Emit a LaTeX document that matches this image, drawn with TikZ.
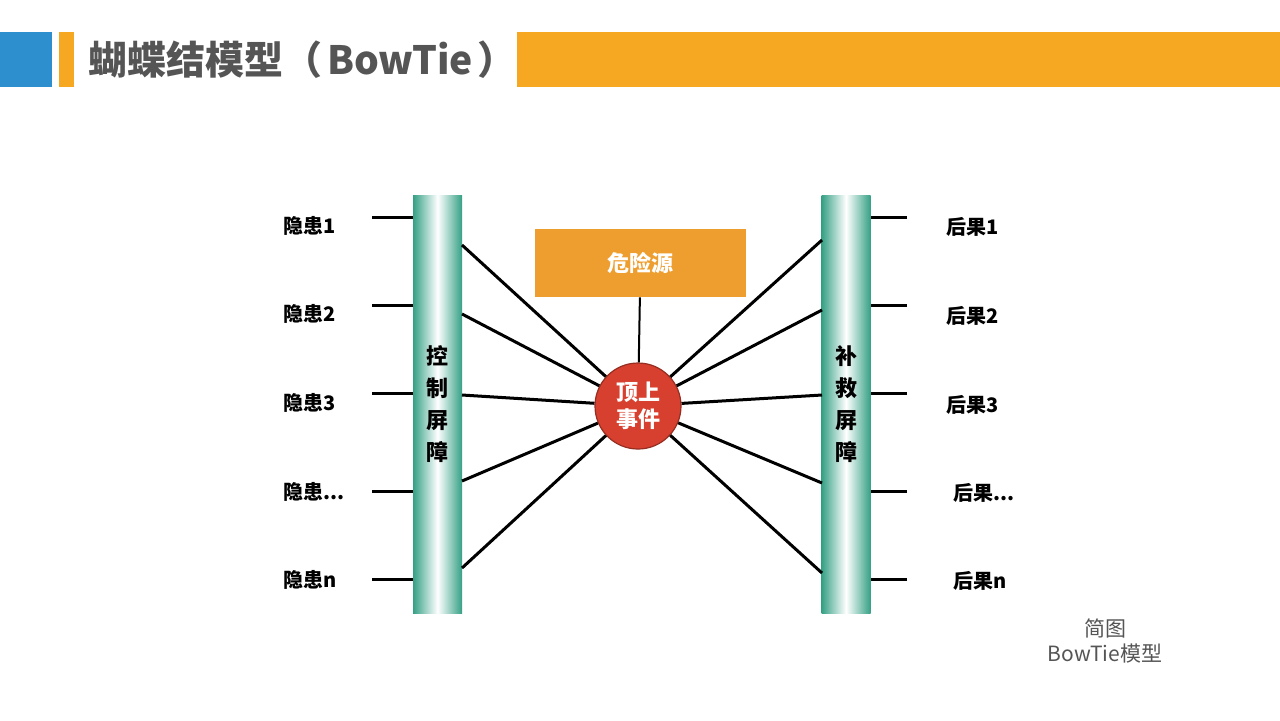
\documentclass[tikz,border=0pt]{standalone}
\usepackage{fontspec}
\setmainfont{Noto Sans CJK SC}
\definecolor{hdblue}{HTML}{2E8FCF}
\definecolor{hdorange}{HTML}{F6A823}
\definecolor{titlegray}{HTML}{555555}
\definecolor{barteal}{HTML}{35A085}
\definecolor{srcorange}{HTML}{EE9E2F}
\definecolor{evred}{HTML}{D7402F}
\begin{document}
\begin{tikzpicture}[x=0.5pt,y=-0.5pt,
        barrier/.style={rectangle, minimum width=24.5pt, minimum height=209pt,
          left color=barteal, right color=barteal, middle color=white,
          align=center, font=\fontsize{11}{16}\selectfont\bfseries},
        cause/.style={anchor=west, font=\fontsize{10}{12}\selectfont\bfseries},
        tick/.style={line width=1.5pt},
        spoke/.style={line width=1.5pt},
        every node/.style={inner sep=0pt}]
        \useasboundingbox (0,0) rectangle (1280,720);
        % header
        \fill[hdblue] (0,32) rectangle (52,87);
        \fill[hdorange] (59,32) rectangle (74,87);
        \fill[hdorange] (517,32) rectangle (1280,87);
        \node[anchor=west, text=titlegray, font=\fontsize{19.5}{22}\selectfont\bfseries]
          (title) at (88,60) {蝴蝶结模型（\hspace{0.12em}BowTie\hspace{0.12em}）};
        % barriers
        \node[barrier] (ctrl) at (437.5,404) {控\\制\\屏\\障};
        \node[barrier] (remedy) at (846,404) {补\\救\\屏\\障};
        % hazard and top event
        \node[rectangle, fill=srcorange, minimum width=105.5pt, minimum height=34pt,
          text=white, font=\fontsize{11}{13}\selectfont\bfseries] (hazard) at (640.5,263) {危险源};
        \node[circle, fill=evred, draw=evred!70!black, line width=0.6pt, minimum size=43pt,
          text=white, align=center, font=\fontsize{11}{13.5}\selectfont\bfseries] (top) at (638,406) {顶上\\事件};
        \draw[line width=1pt] (hazard) -- (top);
        % causes
        \node[cause] (h1) at (283,226) {隐患1};
        \node[cause] (h2) at (283,314) {隐患2};
        \node[cause] (h3) at (283,403) {隐患3};
        \node[cause] (h4) at (283,492) {隐患...};
        \node[cause] (h5) at (283,580) {隐患n};
        % consequences
        \node[cause] (r1) at (946,227) {后果1};
        \node[cause] (r2) at (946,316) {后果2};
        \node[cause] (r3) at (946,405) {后果3};
        \node[cause] (r4) at (953,493) {后果...};
        \node[cause] (r5) at (953,581) {后果n};
        % ticks
        \coordinate (t1) at (372,217);
        \coordinate (t2) at (372,305);
        \coordinate (t3) at (372,393);
        \coordinate (t4) at (372,491);
        \coordinate (t5) at (372,579);
        \coordinate (u1) at (907,217);
        \coordinate (u2) at (907,305);
        \coordinate (u3) at (907,393);
        \coordinate (u4) at (907,491);
        \coordinate (u5) at (907,579);
        \draw[tick] (t1) -- (t1 -| ctrl.west);
        \draw[tick] (t2) -- (t2 -| ctrl.west);
        \draw[tick] (t3) -- (t3 -| ctrl.west);
        \draw[tick] (t4) -- (t4 -| ctrl.west);
        \draw[tick] (t5) -- (t5 -| ctrl.west);
        \draw[tick] (u1) -- (u1 -| remedy.east);
        \draw[tick] (u2) -- (u2 -| remedy.east);
        \draw[tick] (u3) -- (u3 -| remedy.east);
        \draw[tick] (u4) -- (u4 -| remedy.east);
        \draw[tick] (u5) -- (u5 -| remedy.east);
        % spokes
        \coordinate (c1) at (462,245);
        \coordinate (c2) at (462,314);
        \coordinate (c3) at (462,395);
        \coordinate (c4) at (462,481);
        \coordinate (c5) at (462,568);
        \coordinate (d1) at (822,240);
        \coordinate (d2) at (822,310);
        \coordinate (d3) at (822,395);
        \coordinate (d4) at (822,483);
        \coordinate (d5) at (822,573);
        \draw[spoke] (c1) -- (top);
        \draw[spoke] (c2) -- (top);
        \draw[spoke] (c3) -- (top);
        \draw[spoke] (c4) -- (top);
        \draw[spoke] (c5) -- (top);
        \draw[spoke] (d1) -- (top);
        \draw[spoke] (d2) -- (top);
        \draw[spoke] (d3) -- (top);
        \draw[spoke] (d4) -- (top);
        \draw[spoke] (d5) -- (top);
        % caption
        \node[align=center, text=titlegray, font=\fontsize{10.5}{12.5}\selectfont]
          (note) at (1105,641) {简图\\BowTie模型};
    \end{tikzpicture}
\end{document}
